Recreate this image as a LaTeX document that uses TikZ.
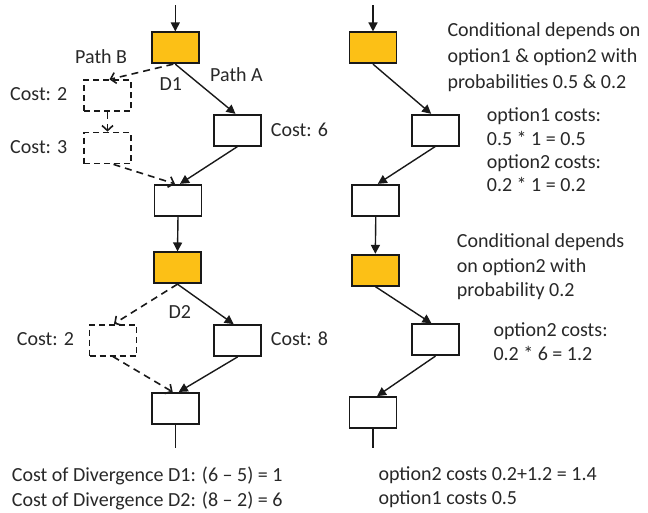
\documentclass[tikz,border=0pt]{standalone}
\usepackage{fontspec}
\setmainfont{Carlito}
\usetikzlibrary{arrows.meta}
\definecolor{gold}{RGB}{252,192,22}
\definecolor{ink}{RGB}{25,25,25}
\definecolor{txt}{RGB}{40,40,40}
\tikzset{
  box/.style={draw=ink, line width=1.7pt, minimum width=47pt, minimum height=31pt, inner sep=0pt, fill=white},
  decision/.style={box, fill=gold},
  dbox/.style={box, dash pattern=on 6pt off 4pt, line width=1.8pt},
  arr/.style={draw=ink, line width=1.4pt, -{Triangle[length=9pt,width=9pt]}},
  darr/.style={draw=ink, line width=1.6pt, dash pattern=on 7pt off 5pt, -{Straight Barb[length=5pt,width=11pt,line width=1.6pt]}},
  plain/.style={draw=ink, line width=1.4pt},
  lbl/.style={anchor=base west, inner sep=0pt, text=txt, font=\fontsize{20}{24}\selectfont}
}
\begin{document}
\begin{tikzpicture}[x=1pt,y=-1pt]
\useasboundingbox (0,0) rectangle (648,512);
% left column
\node[decision] (d1) at (175.3,47.8) {};
\node[dbox] (b1) at (107.5,95.8) {};
\node[dbox] (b2) at (107.5,148) {};
\node[box] (pa) at (237.5,130.2) {};
\node[box] (m1) at (178,200.2) {};
\node[decision] (d2) at (177.5,267.8) {};
\node[dbox] (b3) at (113,340.2) {};
\node[box] (pb) at (237.7,340.5) {};
\node[box] (m2) at (175.7,408.3) {};
\coordinate (lin) at (175.3,5);
\coordinate (lout) at (175.7,448);
% right column
\node[decision] (r1) at (373,47.8) {};
\node[box] (r2) at (435.2,130.2) {};
\node[box] (r3) at (375.8,200.2) {};
\node[decision] (r4) at (375.3,270.2) {};
\node[box] (r5) at (435.5,339.7) {};
\node[box] (r6) at (373,412.5) {};
\coordinate (rin) at (373,5);
\coordinate (rout) at (373,448);
% left connectors
\draw[arr] (lin) -- (d1.north);
\draw[arr] (d1.south) -- ([xshift=-2pt]pa.north);
\draw[darr] ([xshift=-2pt]d1.south) -- ([xshift=2pt]b1.north);
\draw[darr] (b1.south) -- (b2.north);
\draw[darr] ([xshift=6pt]b2.south) -- ([xshift=-3pt]m1.north);
\draw[arr] (pa.south) -- ([xshift=2pt]m1.north);
\draw[arr] (m1.south) -- (d2.north);
\draw[darr] (d2.south) -- ([xshift=1pt]b3.north);
\draw[arr] (d2.south) -- ([xshift=-4pt]pb.north);
\draw[darr] (b3.south) -- ([xshift=-3pt]m2.north);
\draw[arr] (pb.south) -- ([xshift=3pt]m2.north);
\draw[plain] (m2.south) -- (lout);
% right connectors
\draw[arr] (rin) -- (r1.north);
\draw[arr] (r1.south) -- ([xshift=-4pt]r2.north);
\draw[arr] (r2.south) -- ([xshift=2pt]r3.north);
\draw[arr] (r3.south) -- (r4.north);
\draw[arr] (r4.south) -- ([xshift=-4pt]r5.north);
\draw[arr] (r5.south) -- ([xshift=4pt]r6.north);
\draw[plain] (r6.south) -- (rout);
% left labels
\node[lbl] (tpb) at (75,63.3) {Path B};
\node[lbl] (tpa) at (210,81.7) {Path A};
\node[lbl] (td1) at (159.3,90.7) {D1};
\node[lbl] (tc2) at (10,100) {Cost: 2};
\node[lbl] (tc3) at (10,153.3) {Cost: 3};
\node[lbl] (tc6) at (270.7,136.7) {Cost: 6};
\node[lbl] (td2) at (168.3,318.3) {D2};
\node[lbl] (tc2b) at (16.7,345) {Cost: 2};
\node[lbl] (tc8) at (270.7,345) {Cost: 8};
\node[lbl] (cd1) at (11.7,481.7) {Cost of Divergence D1: (6 – 5) = 1};
\node[lbl] (cd2) at (11.7,506.7) {Cost of Divergence D2: (8 – 2) = 6};
% right labels
\node[lbl] (c1a) at (447.3,36.5) {Conditional depends on};
\node[lbl] (c1b) at (447.3,62.5) {option1 \& option2 with};
\node[lbl] (c1c) at (447.3,88.5) {probabilities 0.5 \& 0.2};
\node[lbl] (o1a) at (486.7,121.7) {option1 costs:};
\node[lbl] (o1b) at (486.7,145) {0.5 * 1 = 0.5};
\node[lbl] (o1c) at (486.7,168.3) {option2 costs:};
\node[lbl] (o1d) at (486.7,191.7) {0.2 * 1 = 0.2};
\node[lbl] (c2a) at (456.7,247.3) {Conditional depends};
\node[lbl] (c2b) at (456.7,272) {on option2 with};
\node[lbl] (c2c) at (456.7,296.7) {probability 0.2};
\node[lbl] (o2a) at (493.3,336.7) {option2 costs:};
\node[lbl] (o2b) at (493.3,360) {0.2 * 6 = 1.2};
\node[lbl] (s1) at (378.3,480) {option2 costs 0.2+1.2 = 1.4};
\node[lbl] (s2) at (378.3,504) {option1 costs 0.5};
\end{tikzpicture}
\end{document}
